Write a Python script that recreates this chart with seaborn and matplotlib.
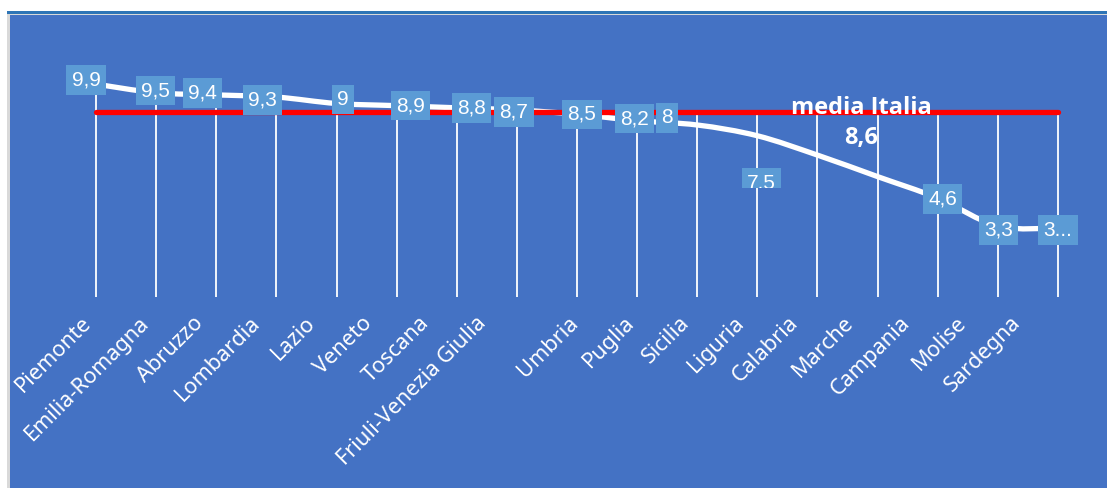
import matplotlib
matplotlib.use("Agg")
import matplotlib.pyplot as plt
from matplotlib.patches import Rectangle, PathPatch
from matplotlib.path import Path
import numpy as np
import pandas as pd
import seaborn as sns

# data
regioni = ["Piemonte", "Emilia-Romagna", "Abruzzo", "Lombardia", "Lazio", "Veneto",
           "Toscana", "Friuli-Venezia Giulia", "Umbria", "Puglia", "Sicilia", "Liguria",
           "Calabria", "Marche", "Campania", "Molise", "Sardegna"]
valori = [9.9, 9.5, 9.4, 9.3, 9.0, 8.9, 8.8, 8.7, 8.5, 8.2, 8.0, 7.5, 6.6, 5.6, 4.6, 3.3, 3.2]
media_italia = 8.6

# label text + offset (pixels) as they sit in the original; None = not shown
etichette = [f"{v:g}".replace(".", ",") for v in valori]
etichette[16] = "3..."
etichette[12] = None
etichette[13] = None
offset = [(-10, -4), (-1, -2), (-14, -2), (-14, 3), (6, -4), (14, 0), (15, 0), (-3, 2),
          (5, 0), (-3, -2), (-30, -7), (4, 47), (0, 0), (0, 0), (5, 1), (1, 4), (0, 2)]
# category labels are not exactly under their tick in the original (pixels)
sposta = [-8, -10, -16, -19, -24, -28, -31, -34, -2, -6, -11, -16, -22, -27, -31, -35, -40]

BLU = "#4472C4"
BOX = "#5B9BD5"

sns.set_style("white")
plt.rcParams["font.family"] = ["Noto Sans", "DejaVu Sans"]

fig = plt.figure(figsize=(11.07, 4.88), dpi=100, facecolor="white")
W, H = 1107, 488
# chart area frame like the office export
for x0, top, col in [(7, 11, "#2E75B6"), (7, 13.5, "#D9D9D9"), (10, 15, BLU)]:
    fig.patches.append(Rectangle((x0 / W, 0), 1, (H - top) / H, transform=fig.transFigure,
                                 fc=col, ec="none", zorder=-10))

ax = fig.add_axes([66 / W, (H - 297) / H, (1088 - 66) / W, (297 - 60.5) / H])
ax.set_facecolor("none")

df = pd.DataFrame({"regione": regioni, "valore": valori, "media": media_italia})
x = np.arange(len(regioni))

# drop lines
ax.vlines(x, 0, np.maximum(df["valore"], media_italia), color="white", lw=1.3, zorder=1)

# smoothed white line (Catmull-Rom bezier through the points)
pts = np.column_stack([x, df["valore"].to_numpy()])
verts = [pts[0]]
codes = [Path.MOVETO]
n = len(pts)
for i in range(n - 1):
    p0 = pts[i - 1] if i > 0 else pts[i]
    p3 = pts[i + 2] if i + 2 < n else pts[i + 1]
    verts += [pts[i] + (pts[i + 1] - p0) / 6, pts[i + 1] - (p3 - pts[i]) / 6, pts[i + 1]]
    codes += [Path.CURVE4] * 3
ax.add_patch(PathPatch(Path(verts, codes), fc="none", ec="white", lw=3.8,
                       capstyle="butt", zorder=2))

# media line
sns.lineplot(data=df, x="regione", y="media", color="red", lw=3.8, ax=ax, zorder=3,
             sort=False)

ax.set_xlim(-0.5, len(regioni) - 0.5)
ax.set_ylim(0, 11)

for i, (lab, (dx, dy)) in enumerate(zip(etichette, offset)):
    if lab is None:
        continue
    t = ax.annotate(lab, xy=(i, valori[i]), xytext=(dx, -dy), textcoords="offset pixels",
                    ha="center", va="center", color="white", fontsize=15,
                    family=["Liberation Sans", "DejaVu Sans"], zorder=5,
                    bbox=dict(boxstyle="square,pad=0.25", fc=BOX, ec="none"))
    if regioni[i] == "Liguria":
        # in the original this label is cut off at the bottom
        clip = Rectangle((i - 0.5, (297 - 188) / 21.5), 1, 5, transform=ax.transData)
        t.set_clip_on(True)
        t.set_clip_path(clip)

ax.text(x[13] - 0.27, media_italia - 0.09, "media Italia", ha="center", va="baseline",
        color="white", fontsize=17, fontweight="bold", family=["Open Sans", "Lato"],
        zorder=6)
ax.text(x[13] - 0.27, media_italia - 1.48, f"{media_italia:g}".replace(".", ","),
        ha="center", va="baseline", color="white", fontsize=17, fontweight="bold",
        family=["Open Sans", "Lato"], zorder=6)

# category labels, rotated 45 degrees
for i, nome in enumerate(regioni):
    ax.annotate(nome, xy=(i, 0), xytext=(sposta[i], -23), textcoords="offset pixels",
                rotation=45, ha="right", va="center", rotation_mode="anchor",
                color="white", fontsize=15.6, annotation_clip=False)

ax.set_xticks([])
ax.set_yticks([])
ax.set_xlabel("")
ax.set_ylabel("")
sns.despine(ax=ax, left=True, bottom=True)
if ax.get_legend():
    ax.get_legend().remove()

fig.savefig("out.png", dpi=100, facecolor=fig.get_facecolor())
